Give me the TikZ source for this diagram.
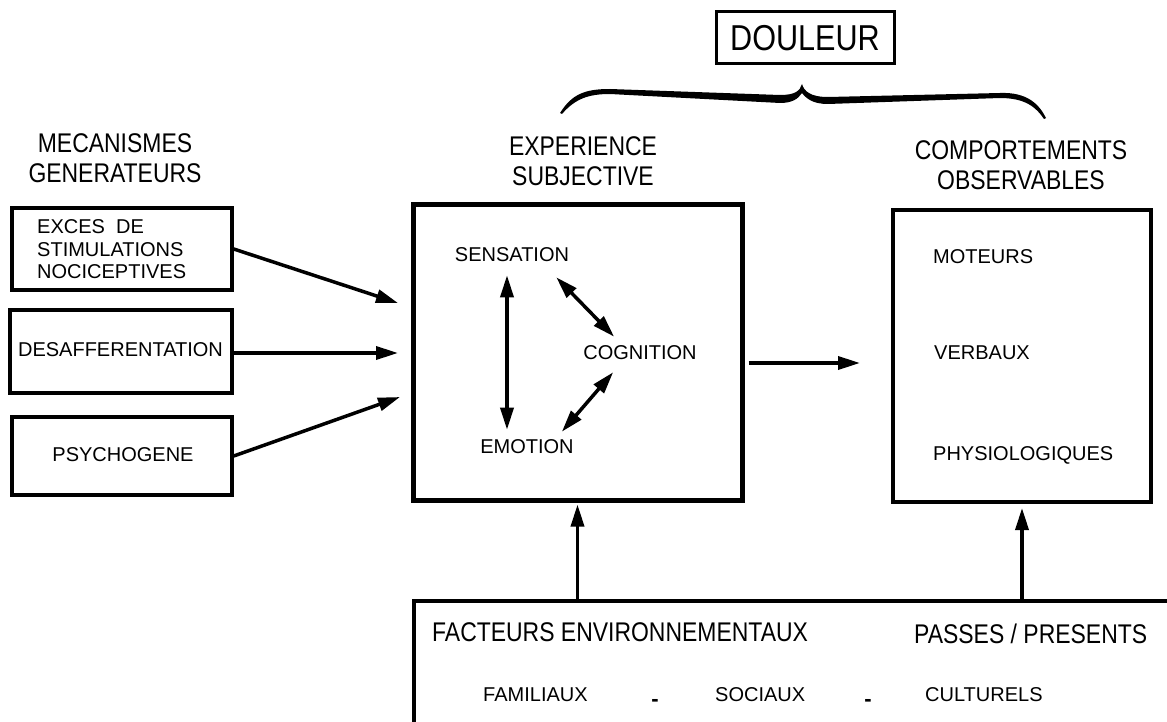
\documentclass[tikz,border=0pt]{standalone}
\usepackage{fontspec}
\setmainfont{Liberation Sans}
\newfontfamily\condf{Liberation Sans}[FakeStretch=0.85]
\usetikzlibrary{arrows.meta,calc}
\begin{document}
\begin{tikzpicture}[x=1pt,y=-1pt,
  box/.style={draw,line width=3.5pt,inner sep=0pt},
  hd/.style={font=\condf\fontsize{27}{30}\selectfont,align=center,inner sep=0pt},
  lab/.style={font=\fontsize{20}{22.5}\selectfont,inner sep=0pt},
  sml/.style={font=\fontsize{20}{22}\selectfont,inner sep=0pt},
  tip/.tip={Triangle[length=22pt,width=13pt]},
  arr/.style={line width=3.5pt,-tip},
  darr/.style={line width=3.5pt,tip-tip},
]
\useasboundingbox[fill=white] (0,0) rectangle (1167,722);

% title and brace
\node[box,line width=3pt,minimum width=178pt,minimum height=52pt] (dou) at (805,38) {};
\node[font=\condf\fontsize{36}{38}\selectfont,inner sep=0pt] (doutxt) at (805,38) {DOULEUR};
\fill
  (560,113) .. controls (572,94) and (585,89) .. (610,89)
  -- (780,95) .. controls (795,95) and (800,91) .. (802,84)
  .. controls (804,91) and (810,97) .. (828,97)
  -- (1000,93) .. controls (1027,92) and (1039,104) .. (1046,118)
  -- (1044,119) .. controls (1036,107) and (1025,98) .. (1000,98)
  -- (828,104) .. controls (812,104) and (806,98) .. (802,93)
  .. controls (798,99) and (792,103) .. (780,103)
  -- (610,94) .. controls (588,94) and (575,99) .. (562,114) -- cycle;

% headings
\node[hd] (hmec) at (115,158) {MECANISMES\\GENERATEURS};
\node[hd] (hexp) at (583,161) {EXPERIENCE\\SUBJECTIVE};
\node[hd] (hcom) at (1021,165) {COMPORTEMENTS\\OBSERVABLES};

% left boxes
\node[box,minimum width=220pt,minimum height=82pt] (b1) at (122,249) {};
\node[box,minimum width=222pt,minimum height=83pt] (b2) at (121,351.5) {};
\node[box,minimum width=220pt,minimum height=78pt] (b3) at (122,456) {};
\node[lab,align=left,anchor=north west] (t1) at (37,219.5) {EXCES\ \ DE\\STIMULATIONS\\NOCICEPTIVES};
\node[lab] (t2) at (120.5,350) {DESAFFERENTATION};
\node[lab] (t3) at (123,455) {PSYCHOGENE};

% centre box
\node[box,line width=5pt,minimum width=329pt,minimum height=295pt] (cbox) at (577.5,352.5) {};
\node[lab] (sen) at (512,255) {SENSATION};
\node[lab] (cog) at (640,353) {COGNITION};
\node[lab] (emo) at (527,447) {EMOTION};
\draw[darr] ([xshift=-5pt,yshift=-13pt]sen.south) -- ([xshift=-20pt,yshift=10pt]emo.north);
\draw[darr] ([xshift=-13pt,yshift=-15pt]sen.south east) -- ([xshift=31pt,yshift=9pt]cog.north west);
\draw[darr] ([xshift=30pt,yshift=-12pt]cog.south west) -- ([xshift=-12pt,yshift=8pt]emo.north east);

% right box
\node[box,line width=4pt,minimum width=258pt,minimum height=292pt] (rbox) at (1022,356) {};
\node[lab,anchor=west] (mot) at (933,257) {MOTEURS};
\node[lab,anchor=west] (ver) at (934,353) {VERBAUX};
\node[lab,anchor=west] (phy) at (933,455) {PHYSIOLOGIQUES};

% bottom box
\node[box,minimum width=766pt,minimum height=139pt] (bbox) at (797,670.5) {};
\node[hd,anchor=west] (fac) at (432,632) {FACTEURS ENVIRONNEMENTAUX};
\node[hd,anchor=west] (pas) at (914,634) {PASSES / PRESENTS};
\node[sml,anchor=west] (fam) at (483,695) {FAMILIAUX};
\node[sml,font=\fontsize{22}{22}\bfseries] (d1) at (655,703) {-};
\node[sml,anchor=west] (soc) at (715,695) {SOCIAUX};
\node[sml,font=\fontsize{22}{22}\bfseries] (d2) at (868,703) {-};
\node[sml,anchor=west] (cul) at (925,695) {CULTURELS};

% connectors
\coordinate (e1) at (398,303);
\coordinate (e2) at (398,353);
\coordinate (e3) at (400,397);
\coordinate (e4) at (860,363);
\draw[arr] (b1.east) -- (e1);
\draw[arr] (b2.east |- e2) -- (e2);
\draw[arr] (b3.east) -- (e3);
\draw[arr,shorten <=4pt] (cbox.east |- e4) -- (e4);
\draw[arr,shorten >=2pt] (bbox.north -| cbox.south) -- (cbox.south);
\draw[arr,shorten >=4pt] (bbox.north -| rbox.south) -- (rbox.south);
\end{tikzpicture}
\end{document}
